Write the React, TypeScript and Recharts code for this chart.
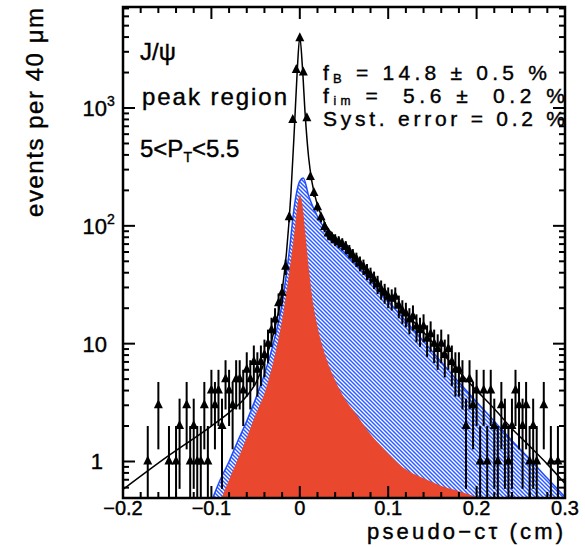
import React from "react";
import {
  ComposedChart,
  XAxis,
  YAxis,
  Area,
  Line,
  Scatter,
  ErrorBar,
} from "recharts";

// measured points (bin centre in cm, events per 40 um)
const ptX = [
  -0.172, -0.16, -0.148, -0.14, -0.136, -0.128, -0.124, -0.12, -0.116, -0.112, -0.108, -0.104,
  -0.1, -0.096, -0.092, -0.088, -0.084, -0.08, -0.076, -0.072, -0.068, -0.064, -0.06, -0.056,
  -0.052, -0.048, -0.044, -0.04, -0.036, -0.032, -0.028, -0.024, -0.02, -0.016, -0.012, -0.008,
  -0.004, 0, 0.004, 0.008, 0.012, 0.016, 0.02, 0.024, 0.028, 0.032, 0.036, 0.04, 0.044, 0.048,
  0.052, 0.056, 0.06, 0.064, 0.068, 0.072, 0.076, 0.08, 0.084, 0.088, 0.092, 0.096, 0.1, 0.104,
  0.108, 0.112, 0.116, 0.12, 0.124, 0.128, 0.132, 0.136, 0.14, 0.144, 0.148, 0.152, 0.156, 0.16,
  0.164, 0.168, 0.172, 0.176, 0.18, 0.184, 0.188, 0.192, 0.196, 0.2, 0.204, 0.208, 0.212, 0.216,
  0.22, 0.224, 0.228, 0.232, 0.236, 0.24, 0.244, 0.248, 0.252, 0.256, 0.26, 0.264, 0.268, 0.276,
  0.284, 0.292,
];
const ptN = [
  1, 3, 1, 1, 2, 3, 1, 2, 1, 1, 3, 1,
  4, 3, 4, 2, 5, 4, 3, 5, 5, 4, 6, 5,
  7, 6, 7, 8, 10, 13, 16, 22, 27, 45, 118, 790,
  2100, 3900, 2000, 820, 260, 190, 144, 118, 98, 86, 80, 76, 73, 70,
  66, 61, 56, 52, 48, 45, 41, 38, 35, 32, 29, 27, 25, 24,
  25, 21, 19, 18, 16, 17, 14, 13, 14, 11, 12, 10, 9, 10,
  8, 9, 7, 6, 6, 5, 2, 5, 3, 4, 1, 4, 1, 4,
  2, 1, 3, 2, 1, 2, 4, 3, 2, 3, 1, 2, 1, 3,
  1, 1,
];

// total fit
const fitX = [
  -0.2, -0.15, -0.1, -0.08, -0.06, -0.05, -0.04, -0.03, -0.02, -0.015, -0.01, -0.006, -0.003, 0,
  0.003, 0.006, 0.01, 0.014, 0.02, 0.03, 0.04, 0.05, 0.06, 0.08, 0.1, 0.12, 0.14, 0.16, 0.18, 0.2,
  0.22, 0.24, 0.26, 0.28, 0.3,
];
const fitY = [
  0.58, 1.1, 2.0, 2.6, 3.6, 4.6, 7, 12, 28, 60, 190, 700, 2000, 4000,
  2200, 900, 380, 230, 150, 100, 80, 66, 55, 38, 26, 18, 12.5, 8.5, 5.8, 4,
  2.8, 1.9, 1.35, 0.95, 0.65,
];

// background component (hatched blue)
const bkgX = [
  -0.098, -0.09, -0.08, -0.07, -0.06, -0.05, -0.04, -0.03, -0.02, -0.012, -0.006, 0, 0.004, 0.01,
  0.02, 0.03, 0.04, 0.05, 0.06, 0.08, 0.1, 0.12, 0.14, 0.16, 0.18, 0.2, 0.22, 0.24, 0.26, 0.28, 0.3,
];
const bkgY = [
  0.5, 0.7, 1.0, 1.5, 2.2, 3.4, 5.5, 10, 22, 60, 150, 240, 255, 180,
  120, 90, 72, 60, 50, 34, 23, 15.5, 10.5, 7, 4.7, 3.2, 2.2, 1.5, 1.05, 0.72, 0.5,
];

// prompt component (red)
const prmX = [
  -0.088, -0.08, -0.07, -0.06, -0.05, -0.04, -0.03, -0.02, -0.012, -0.006, -0.002, 0, 0.003,
  0.006, 0.01, 0.015, 0.02, 0.03, 0.04, 0.05, 0.064, 0.08, 0.094, 0.116, 0.14, 0.158, 0.18, 0.2,
];
const prmY = [
  0.5, 0.7, 1.05, 1.6, 2.5, 3.8, 7, 16, 40, 90, 160, 182, 150,
  90, 45, 22, 14, 7.5, 4.9, 3.5, 2.5, 1.7, 1.3, 0.9, 0.72, 0.63, 0.56, 0.5,
];

const xTicks = [
  -0.2, -0.18, -0.16, -0.14, -0.12, -0.1, -0.08, -0.06, -0.04, -0.02, 0, 0.02, 0.04, 0.06, 0.08,
  0.1, 0.12, 0.14, 0.16, 0.18, 0.2, 0.22, 0.24, 0.26, 0.28, 0.3,
];
const yTicks = [
  0.6, 0.7, 0.8, 0.9, 1, 2, 3, 4, 5, 6, 7, 8, 9, 10, 20, 30, 40, 50, 60, 70, 80, 90, 100, 200, 300,
  400, 500, 600, 700, 800, 900, 1000, 2000, 3000, 4000, 5000, 6000, 7000,
];

const FONT = "'Liberation Sans', Arial, Helvetica, sans-serif";
const PLOT = { left: 123, right: 565, top: 7, bottom: 498 };
const INK = { stroke: "#000", strokeWidth: 0.4 };

const points = ptX.map((x, i) => {
  const n = ptN[i];
  const e = Math.sqrt(n);
  return { x, y: n, err: [Math.min(e, n - 0.5), e] };
});
const fit = fitX.map((x, i) => ({ x, y: fitY[i] }));
const bkg = bkgX.map((x, i) => ({ x, y: bkgY[i] }));
const prm = prmX.map((x, i) => ({ x, y: prmY[i] }));

function XTick(props: any) {
  const { x, y, payload } = props;
  const v = payload.value;
  const major = Math.abs(v * 10 - Math.round(v * 10)) < 1e-6;
  const len = major ? 12 : 6;
  let label = "";
  if (major) label = Math.abs(v) < 1e-9 ? "0" : (v < 0 ? "\u2212" : "") + String(Math.abs(v));
  return (
    <g>
      <line x1={x} y1={y} x2={x} y2={y - len} stroke="#000" strokeWidth={2} />
      <line x1={x} y1={PLOT.top} x2={x} y2={PLOT.top + len} stroke="#000" strokeWidth={2} />
      {major && (
        <text x={x} y={y + 17} textAnchor="middle" fontSize={20} fontFamily={FONT} fill="#000" {...INK}>
          {label}
        </text>
      )}
    </g>
  );
}

function YTick(props: any) {
  const { x, y, payload } = props;
  const v = payload.value;
  const lg = Math.log10(v);
  const major = Math.abs(lg - Math.round(lg)) < 1e-6;
  const len = major ? 12 : 6;
  const p = Math.round(lg);
  return (
    <g>
      <line x1={x} y1={y} x2={x + len} y2={y} stroke="#000" strokeWidth={2} />
      <line x1={PLOT.right} y1={y} x2={PLOT.right - len} y2={y} stroke="#000" strokeWidth={2} />
      {major && (
        <text x={p === 0 ? 103 : 107} y={y + 8} textAnchor="end" fontSize={22} fontFamily={FONT} fill="#000" {...INK}>
          {p === 0 ? "1" : "10"}
        </text>
      )}
      {major && p >= 2 && (
        <text x={107} y={y - 2} fontSize={14} fontFamily={FONT} fill="#000" {...INK}>
          {p}
        </text>
      )}
    </g>
  );
}

function Tri(props: any) {
  const { cx, cy } = props;
  if (cx == null || cy == null) return null;
  return <polygon points={`${cx},${cy - 6} ${cx - 4.5},${cy + 3} ${cx + 4.5},${cy + 3}`} fill="#000" />;
}

export default function App() {
  return (
    <div style={{ position: "absolute", left: 0, top: 0, width: 585, height: 547, background: "#fff" }}>
      <ComposedChart width={585} height={547} margin={{ top: 7, right: 20, bottom: 0, left: 0 }}>
        <defs>
          <pattern id="hatch" patternUnits="userSpaceOnUse" width={4} height={4}>
            <rect width={4} height={4} fill="#2d5cff" />
            <path d="M-1,3 l2,2 M0,0 l4,4 M3,-1 l2,2" stroke="#ffffff" strokeWidth={1.3} />
          </pattern>
        </defs>
        <XAxis
          dataKey="x"
          type="number"
          domain={[-0.2, 0.3]}
          allowDataOverflow
          ticks={xTicks}
          interval={0}
          height={49}
          tickSize={0}
          tickMargin={0}
          axisLine={false}
          tickLine={false}
          tick={<XTick />}
        />
        <YAxis
          type="number"
          scale="log"
          domain={[0.49, 7200]}
          allowDataOverflow
          ticks={yTicks}
          interval={0}
          width={123}
          tickSize={0}
          tickMargin={0}
          axisLine={false}
          tickLine={false}
          tick={<YTick />}
        />
        <Area
          data={bkg}
          dataKey="y"
          type="monotone"
          baseValue={0.49}
          fill="url(#hatch)"
          fillOpacity={1}
          stroke="#1f4bff"
          strokeWidth={1.5}
          isAnimationActive={false}
        />
        <Area
          data={prm}
          dataKey="y"
          type="monotone"
          baseValue={0.49}
          fill="#e9472e"
          fillOpacity={1}
          stroke="none"
          isAnimationActive={false}
        />
        <Line
          data={fit}
          dataKey="y"
          type="monotone"
          dot={false}
          stroke="#000"
          strokeWidth={1.5}
          isAnimationActive={false}
        />
        <Scatter data={points} dataKey="y" shape={<Tri />} isAnimationActive={false}>
          <ErrorBar dataKey="err" direction="y" width={0} stroke="#000" strokeWidth={2} />
        </Scatter>
      </ComposedChart>
      <svg
        width={585}
        height={547}
        style={{ position: "absolute", left: 0, top: 0, pointerEvents: "none" }}
        fontFamily={FONT}
      >
        <rect
          x={PLOT.left}
          y={PLOT.top}
          width={PLOT.right - PLOT.left}
          height={PLOT.bottom - PLOT.top}
          fill="none"
          stroke="#000"
          strokeWidth={2.5}
        />
        <g {...INK}>
          <text x={140} y={60} fontSize={24}>J/ψ</text>
          <text x={142} y={105} fontSize={24} textLength={145} lengthAdjust="spacing">peak region</text>
          <text x={140} y={157} fontSize={24}>
            5&lt;P<tspan fontSize={14} dy={5}>T</tspan>
            <tspan dy={-5}>&lt;5.5</tspan>
          </text>
          <text x={323} y={80} fontSize={21} textLength={224} lengthAdjust="spacing" style={{ whiteSpace: "pre" }}>
            f<tspan fontSize={13} dy={3}>B</tspan>
            <tspan dy={-3}> = 14.8 ± 0.5 %</tspan>
          </text>
          <text x={323} y={103} fontSize={21} textLength={242} lengthAdjust="spacing" style={{ whiteSpace: "pre" }}>
            f<tspan fontSize={12} dy={2}>im</tspan>
            <tspan dy={-2}> =  5.6 ±  0.2 %</tspan>
          </text>
          <text x={323} y={126} fontSize={21} textLength={242} lengthAdjust="spacing">
            Syst. error = 0.2 %
          </text>
          <text x={367} y={539} fontSize={22} textLength={196} lengthAdjust="spacing">
            pseudo−cτ (cm)
          </text>
          <text
            transform="translate(43,217) rotate(-90)"
            x={0}
            y={0}
            fontSize={24}
            textLength={209}
            lengthAdjust="spacing"
          >
            events per 40 μm
          </text>
        </g>
      </svg>
    </div>
  );
}
